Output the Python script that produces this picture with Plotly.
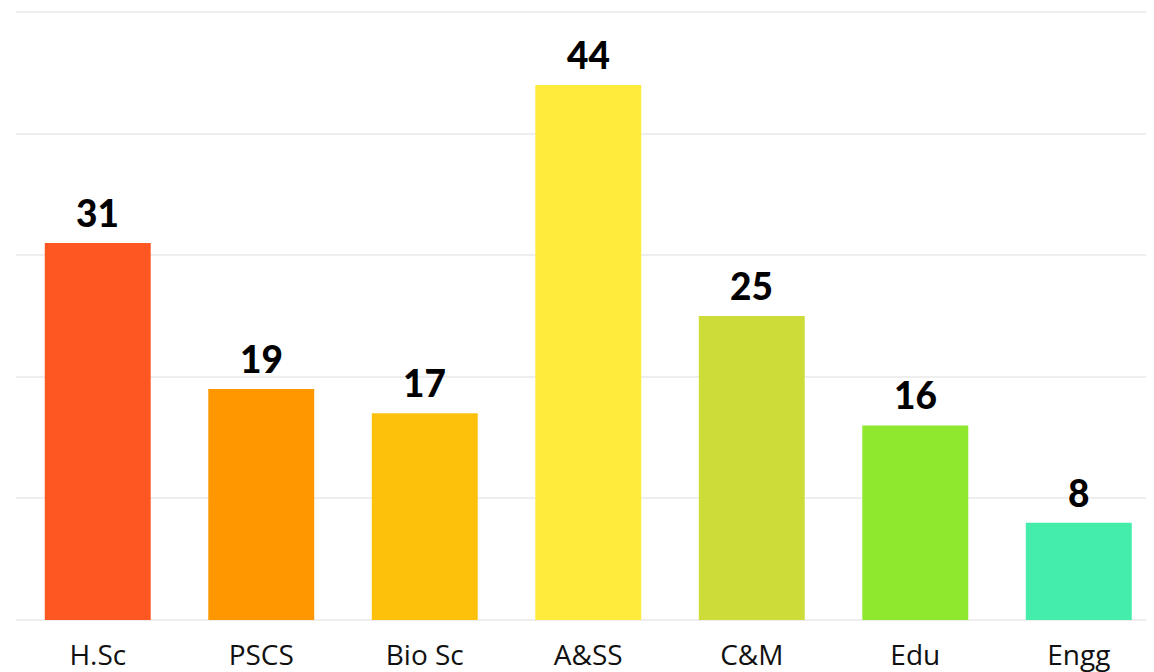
import plotly.graph_objects as go

# faculty groups and counts
categories = ["H.Sc", "PSCS", "Bio Sc", "A&SS", "C&M", "Edu", "Engg"]
counts = [31, 19, 17, 44, 25, 16, 8]
bar_colors = ["#FF5722", "#FF9800", "#FDC10B", "#FFEB3B", "#CDDC39", "#8FE82E", "#44EDAA"]

fig = go.Figure()

fig.add_trace(go.Bar(
    x=categories,
    y=counts,
    marker_color=bar_colors,
    marker_line_width=0,
    hoverinfo="x+y",
    showlegend=False,
))

# value labels above bars
for cat, val in zip(categories, counts):
    fig.add_annotation(
        x=cat, y=val,
        text=str(val),
        showarrow=False,
        yanchor="bottom",
        yshift=6,
        font=dict(family="Lato", size=37, color="#000000", weight=900),
    )

fig.update_layout(
    width=1154,
    height=672,
    margin=dict(l=8, r=0, t=0, b=60),
    paper_bgcolor="white",
    plot_bgcolor="white",
    bargap=0.352,
    xaxis=dict(
        range=[-0.5, 6.509],
        showgrid=False,
        zeroline=False,
        showline=False,
        ticks="",
        ticklabelstandoff=16,
        tickfont=dict(family="Open Sans", size=28, color="#111111"),
    ),
    yaxis=dict(
        range=[0, 50.33],
        dtick=10,
        showticklabels=False,
        showgrid=True,
        gridcolor="#eeeeee",
        gridwidth=2,
        zeroline=True,
        zerolinecolor="#eeeeee",
        zerolinewidth=2,
    ),
)

fig.write_html("out.html")
